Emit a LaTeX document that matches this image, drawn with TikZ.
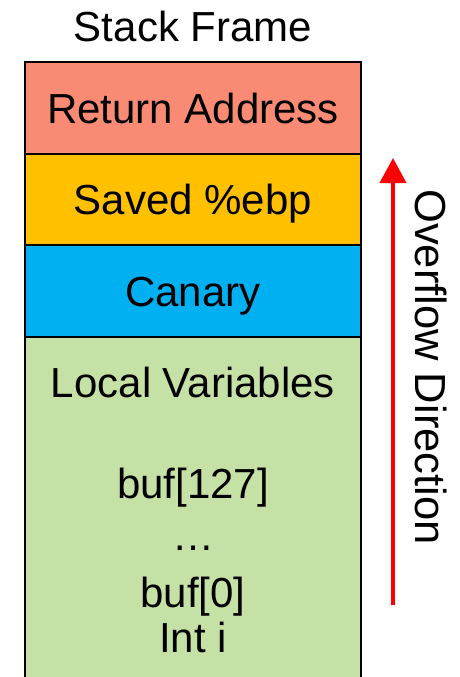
\documentclass[tikz,border=0pt]{standalone}
\usepackage{fontspec}
\setmainfont{Liberation Sans}
\usetikzlibrary{arrows.meta}
\definecolor{retcol}{HTML}{F98A73}
\definecolor{ebpcol}{HTML}{FFC000}
\definecolor{canarycol}{HTML}{00B0F0}
\definecolor{localcol}{HTML}{C5E1A5}
\definecolor{arrowred}{HTML}{FF0000}
\tikzset{
  big/.style={font=\fontsize{42pt}{50pt}\selectfont},
  cell/.style={draw=black, line width=2pt, minimum width=336pt, inner sep=0pt, outer sep=0pt,
               anchor=north west, big, text height=30pt, text depth=0pt},
  txt/.style={big, anchor=base, inner sep=0pt},
  overflow/.style={draw=arrowred, line width=4pt, -{Triangle[width=26pt,length=25pt]}}
}
\begin{document}
\begin{tikzpicture}[x=1pt,y=-1pt]
\useasboundingbox (0,0) rectangle (459,677);
\begin{scope}
\clip (0,0) rectangle (459,677);
% title
\node[txt] (title) at (193,42) {Stack Frame};
% frame slots, top to bottom
\node[cell, fill=retcol, minimum height=92pt] (ret) at (25,62) {Return Address};
\node[cell, fill=ebpcol, minimum height=91pt] (ebp) at (25,154) {Saved \%ebp};
\node[cell, fill=canarycol, minimum height=92pt] (canary) at (25,245) {Canary};
\node[cell, fill=localcol, minimum height=360pt] (local) at (25,337) {};
% contents of the local variable area
\node[txt] (lvname) at (193,397) {Local Variables};
\node[txt] (bufhi) at (193,498) {buf[127]};
\node[txt] (dots) at (193,550) {…};
\node[txt] (buflo) at (193,607) {buf[0]};
\node[txt] (inti) at (193,652) {Int i};
% direction of a buffer overflow
\coordinate (ovStart) at (393,605);
\coordinate (ovEnd) at (393,158);
\draw[overflow] (ovStart) -- (ovEnd);
\node[txt, rotate=-90, font=\fontsize{43.5pt}{50pt}\selectfont] (ovlabel) at (415,367) {Overflow Direction};
\end{scope}
\end{tikzpicture}
\end{document}
